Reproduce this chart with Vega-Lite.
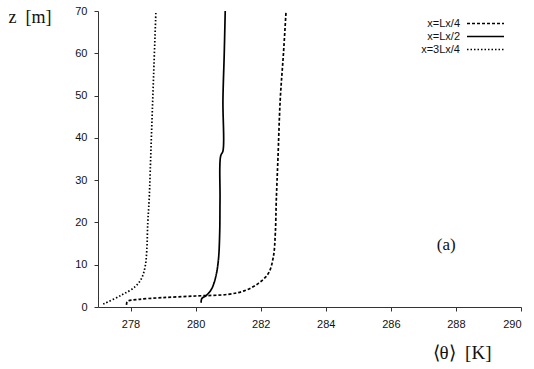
{
  "$schema": "https://vega.github.io/schema/vega-lite/v6.json",
  "autosize": "none",
  "padding": {"left": 98, "top": 11, "right": 13, "bottom": 62},
  "width": 423,
  "height": 296,
  "background": "white",
  "config": {
    "view": {"stroke": null},
    "axis": {
      "grid": false,
      "domainColor": "#333",
      "tickColor": "#333",
      "tickSize": 4,
      "labelFont": "Liberation Sans",
      "labelFontSize": 11,
      "labelColor": "#111",
      "titleFont": "Liberation Serif",
      "titleFontSize": 18,
      "titleFontWeight": "normal",
      "titleColor": "#111"
    }
  },
  "layer": [
    {
      "data": {
        "values": [
          {"s": "x=Lx/4", "t": 277.88, "z": 0.5},
          {"s": "x=Lx/4", "t": 277.9, "z": 1.3},
          {"s": "x=Lx/4", "t": 278.24, "z": 1.8},
          {"s": "x=Lx/4", "t": 278.96, "z": 2.2},
          {"s": "x=Lx/4", "t": 280.0, "z": 2.6},
          {"s": "x=Lx/4", "t": 281.0, "z": 3.0},
          {"s": "x=Lx/4", "t": 281.52, "z": 3.9},
          {"s": "x=Lx/4", "t": 281.93, "z": 5.6},
          {"s": "x=Lx/4", "t": 282.24, "z": 8.0},
          {"s": "x=Lx/4", "t": 282.39, "z": 11.9},
          {"s": "x=Lx/4", "t": 282.45, "z": 17.5},
          {"s": "x=Lx/4", "t": 282.48, "z": 25.4},
          {"s": "x=Lx/4", "t": 282.53, "z": 35},
          {"s": "x=Lx/4", "t": 282.6, "z": 49},
          {"s": "x=Lx/4", "t": 282.7, "z": 60},
          {"s": "x=Lx/4", "t": 282.78, "z": 70},
          {"s": "x=Lx/2", "t": 280.17, "z": 1.0},
          {"s": "x=Lx/2", "t": 280.19, "z": 2.0},
          {"s": "x=Lx/2", "t": 280.34, "z": 2.8},
          {"s": "x=Lx/2", "t": 280.5, "z": 4.4},
          {"s": "x=Lx/2", "t": 280.62, "z": 7.2},
          {"s": "x=Lx/2", "t": 280.7, "z": 11.1},
          {"s": "x=Lx/2", "t": 280.74, "z": 17.5},
          {"s": "x=Lx/2", "t": 280.75, "z": 25.4},
          {"s": "x=Lx/2", "t": 280.77, "z": 35.7},
          {"s": "x=Lx/2", "t": 280.84, "z": 36.9},
          {"s": "x=Lx/2", "t": 280.84, "z": 49},
          {"s": "x=Lx/2", "t": 280.88, "z": 60},
          {"s": "x=Lx/2", "t": 280.91, "z": 70},
          {"s": "x=3Lx/4", "t": 277.16, "z": 0.7},
          {"s": "x=3Lx/4", "t": 277.22, "z": 0.9},
          {"s": "x=3Lx/4", "t": 277.73, "z": 2.85},
          {"s": "x=3Lx/4", "t": 278.14, "z": 4.8},
          {"s": "x=3Lx/4", "t": 278.34, "z": 6.8},
          {"s": "x=3Lx/4", "t": 278.45, "z": 9.6},
          {"s": "x=3Lx/4", "t": 278.5, "z": 13.5},
          {"s": "x=3Lx/4", "t": 278.53, "z": 20},
          {"s": "x=3Lx/4", "t": 278.57, "z": 25},
          {"s": "x=3Lx/4", "t": 278.64, "z": 40},
          {"s": "x=3Lx/4", "t": 278.71, "z": 55},
          {"s": "x=3Lx/4", "t": 278.78, "z": 70}
        ]
      },
      "mark": {"type": "line", "color": "black", "strokeWidth": 1.7, "interpolate": "catmull-rom"},
      "encoding": {
        "x": {
          "field": "t", "type": "quantitative",
          "scale": {"domain": [277, 290], "nice": false, "zero": false},
          "axis": {"values": [278, 280, 282, 284, 286, 288, 290], "title": "⟨θ⟩\u00a0\u00a0[K]", "titleFontSize": 19, "titleAlign": "left", "titleBaseline": "alphabetic", "titleX": 334, "titleY": 51, "labelPadding": 7}
        },
        "y": {
          "field": "z", "type": "quantitative",
          "scale": {"domain": [0, 70], "nice": false},
          "axis": {"values": [0, 10, 20, 30, 40, 50, 60, 70], "title": "z\u00a0\u00a0[m]", "titleAngle": 0, "titleAlign": "left", "titleBaseline": "alphabetic", "titleX": -90, "titleY": 11, "labelPadding": 7}
        },
        "strokeDash": {
          "field": "s", "type": "nominal",
          "scale": {"domain": ["x=Lx/4", "x=Lx/2", "x=3Lx/4"], "range": [[3, 2], [1, 0], [1.5, 2]]},
          "legend": {
            "title": null, "orient": "none", "legendX": 380, "legendY": 5,
            "symbolType": "M-3,0H3", "symbolSize": 152, "symbolStrokeColor": "black", "symbolStrokeWidth": 1.7,
            "labelFont": "Liberation Sans", "labelFontSize": 11, "labelColor": "#111",
            "labelAlign": "right", "labelOffset": -33, "rowPadding": 0
          }
        },
        "order": {"field": "z", "type": "quantitative"}
      }
    },
    {
      "data": {"values": [{"label": "(a)"}]},
      "mark": {"type": "text", "font": "Liberation Serif", "fontSize": 17, "fill": "#111"},
      "encoding": {
        "text": {"field": "label"},
        "x": {"datum": 287.7},
        "y": {"datum": 14.7}
      }
    }
  ]
}
